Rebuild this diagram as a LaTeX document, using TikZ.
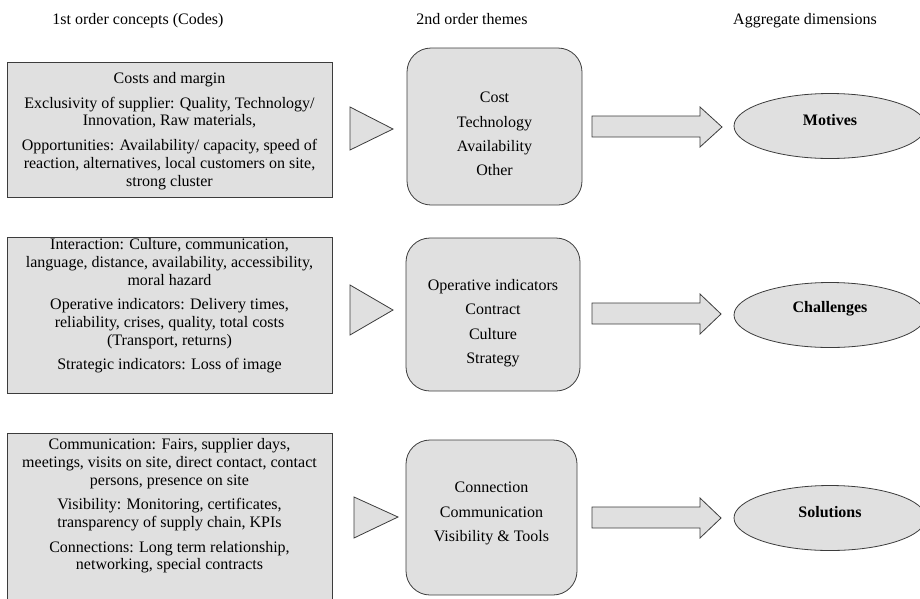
\documentclass[tikz,border=0pt]{standalone}
\usepackage{fontspec}
\setmainfont{Liberation Serif}
\usetikzlibrary{shapes.geometric}
\definecolor{boxfill}{RGB}{224,224,224}
\definecolor{boxline}{RGB}{60,60,60}
\begin{document}
\begin{tikzpicture}[x=1pt,y=-1pt,
  every node/.style={font=\fontsize{16}{17.7}\selectfont, text=black},
  codebox/.style={draw=boxline, fill=boxfill, line width=0.8pt, rectangle, inner sep=0pt},
  themebox/.style={draw=boxline, fill=boxfill, line width=0.8pt, rectangle, rounded corners=24pt, inner sep=0pt},
  dimell/.style={draw=boxline, fill=boxfill, line width=0.8pt, ellipse, inner sep=0pt, minimum width=192pt, minimum height=65pt},
  txt/.style={align=center, inner sep=0pt},
  glyph/.style={draw=boxline, fill=boxfill, line width=0.8pt, line join=miter},
  header/.style={anchor=base, inner sep=0pt}]
\path[use as bounding box] (0,0) rectangle (920,598);
\clip (0,0) rectangle (920,598);

% headers
\node[header] (h1) at (138,24) {1st order concepts (Codes)};
\node[header] (h2) at (472,24) {2nd order themes};
\node[header] (h3) at (805,24) {Aggregate dimensions};

% left boxes
\node[codebox, minimum width=325pt, minimum height=135pt] (b1) at (169.5,129.5) {};
\node[txt] (t1) at (169.5,131) {Costs and margin\\[7pt]
Exclusivity of supplier: Quality, Technology/\\ Innovation, Raw materials,\\[7pt]
Opportunities: Availability/ capacity, speed of\\ reaction, alternatives, local customers on site,\\ strong cluster};

\node[codebox, minimum width=325pt, minimum height=156pt] (b2) at (169.5,315) {};
\node[txt] (t2) at (169.5,306) {Interaction: Culture, communication,\\ language, distance, availability, accessibility,\\ moral hazard\\[7pt]
Operative indicators: Delivery times,\\ reliability, crises, quality, total costs\\ (Transport, returns)\\[7pt]
Strategic indicators: Loss of image};

\node[codebox, minimum width=325pt, minimum height=180pt] (b3) at (169.5,523) {};
\node[txt] (t3) at (169.5,506) {Communication: Fairs, supplier days,\\ meetings, visits on site, direct contact, contact\\ persons, presence on site\\[7pt]
Visibility: Monitoring, certificates,\\ transparency of supply chain, KPIs\\[7pt]
Connections: Long term relationship,\\ networking, special contracts};

% triangles
\draw[glyph] (350,107) -- (393,129) -- (350,150) -- cycle;
\draw[glyph] (350,285) -- (393,310) -- (350,335) -- cycle;
\draw[glyph] (354,497) -- (398,517) -- (354,538) -- cycle;

% middle rounded boxes
\node[themebox, minimum width=175pt, minimum height=157pt] (r1) at (494.5,126.5) {};
\node[txt] (s1) at (494.5,134) {Cost\\[6.7pt] Technology\\[6.7pt] Availability\\[6.7pt] Other};

\node[themebox, minimum width=174pt, minimum height=153pt] (r2) at (493,314.5) {};
\node[txt] (s2) at (493,323) {Operative indicators\\[6.7pt] Contract\\[6.7pt] Culture\\[6.7pt] Strategy};

\node[themebox, minimum width=171pt, minimum height=155pt] (r3) at (491.5,517.5) {};
\node[txt] (s3) at (491.5,513.5) {Connection\\[6.7pt] Communication\\[6.7pt] Visibility \& Tools};

% block arrows
\draw[glyph] (592,116) -- (700,116) -- (700,107) -- (722,127) -- (700,147) -- (700,137) -- (592,137) -- cycle;
\draw[glyph] (592,303) -- (700,303) -- (700,294) -- (721,314) -- (700,334) -- (700,324) -- (592,324) -- cycle;
\draw[glyph] (592,507) -- (700,507) -- (700,498) -- (721,518) -- (700,538) -- (700,528) -- (592,528) -- cycle;

% ellipses
\node[dimell] (e1) at (830,126) {};
\node[inner sep=0pt, font=\fontsize{16}{17.7}\selectfont\bfseries] (m1) at (830,120) {Motives};
\node[dimell] (e2) at (830,315) {};
\node[inner sep=0pt, font=\fontsize{16}{17.7}\selectfont\bfseries] (m2) at (830,309) {Challenges};
\node[dimell] (e3) at (830,518) {};
\node[inner sep=0pt, font=\fontsize{16}{17.7}\selectfont\bfseries] (m3) at (830,512) {Solutions};
\end{tikzpicture}
\end{document}
